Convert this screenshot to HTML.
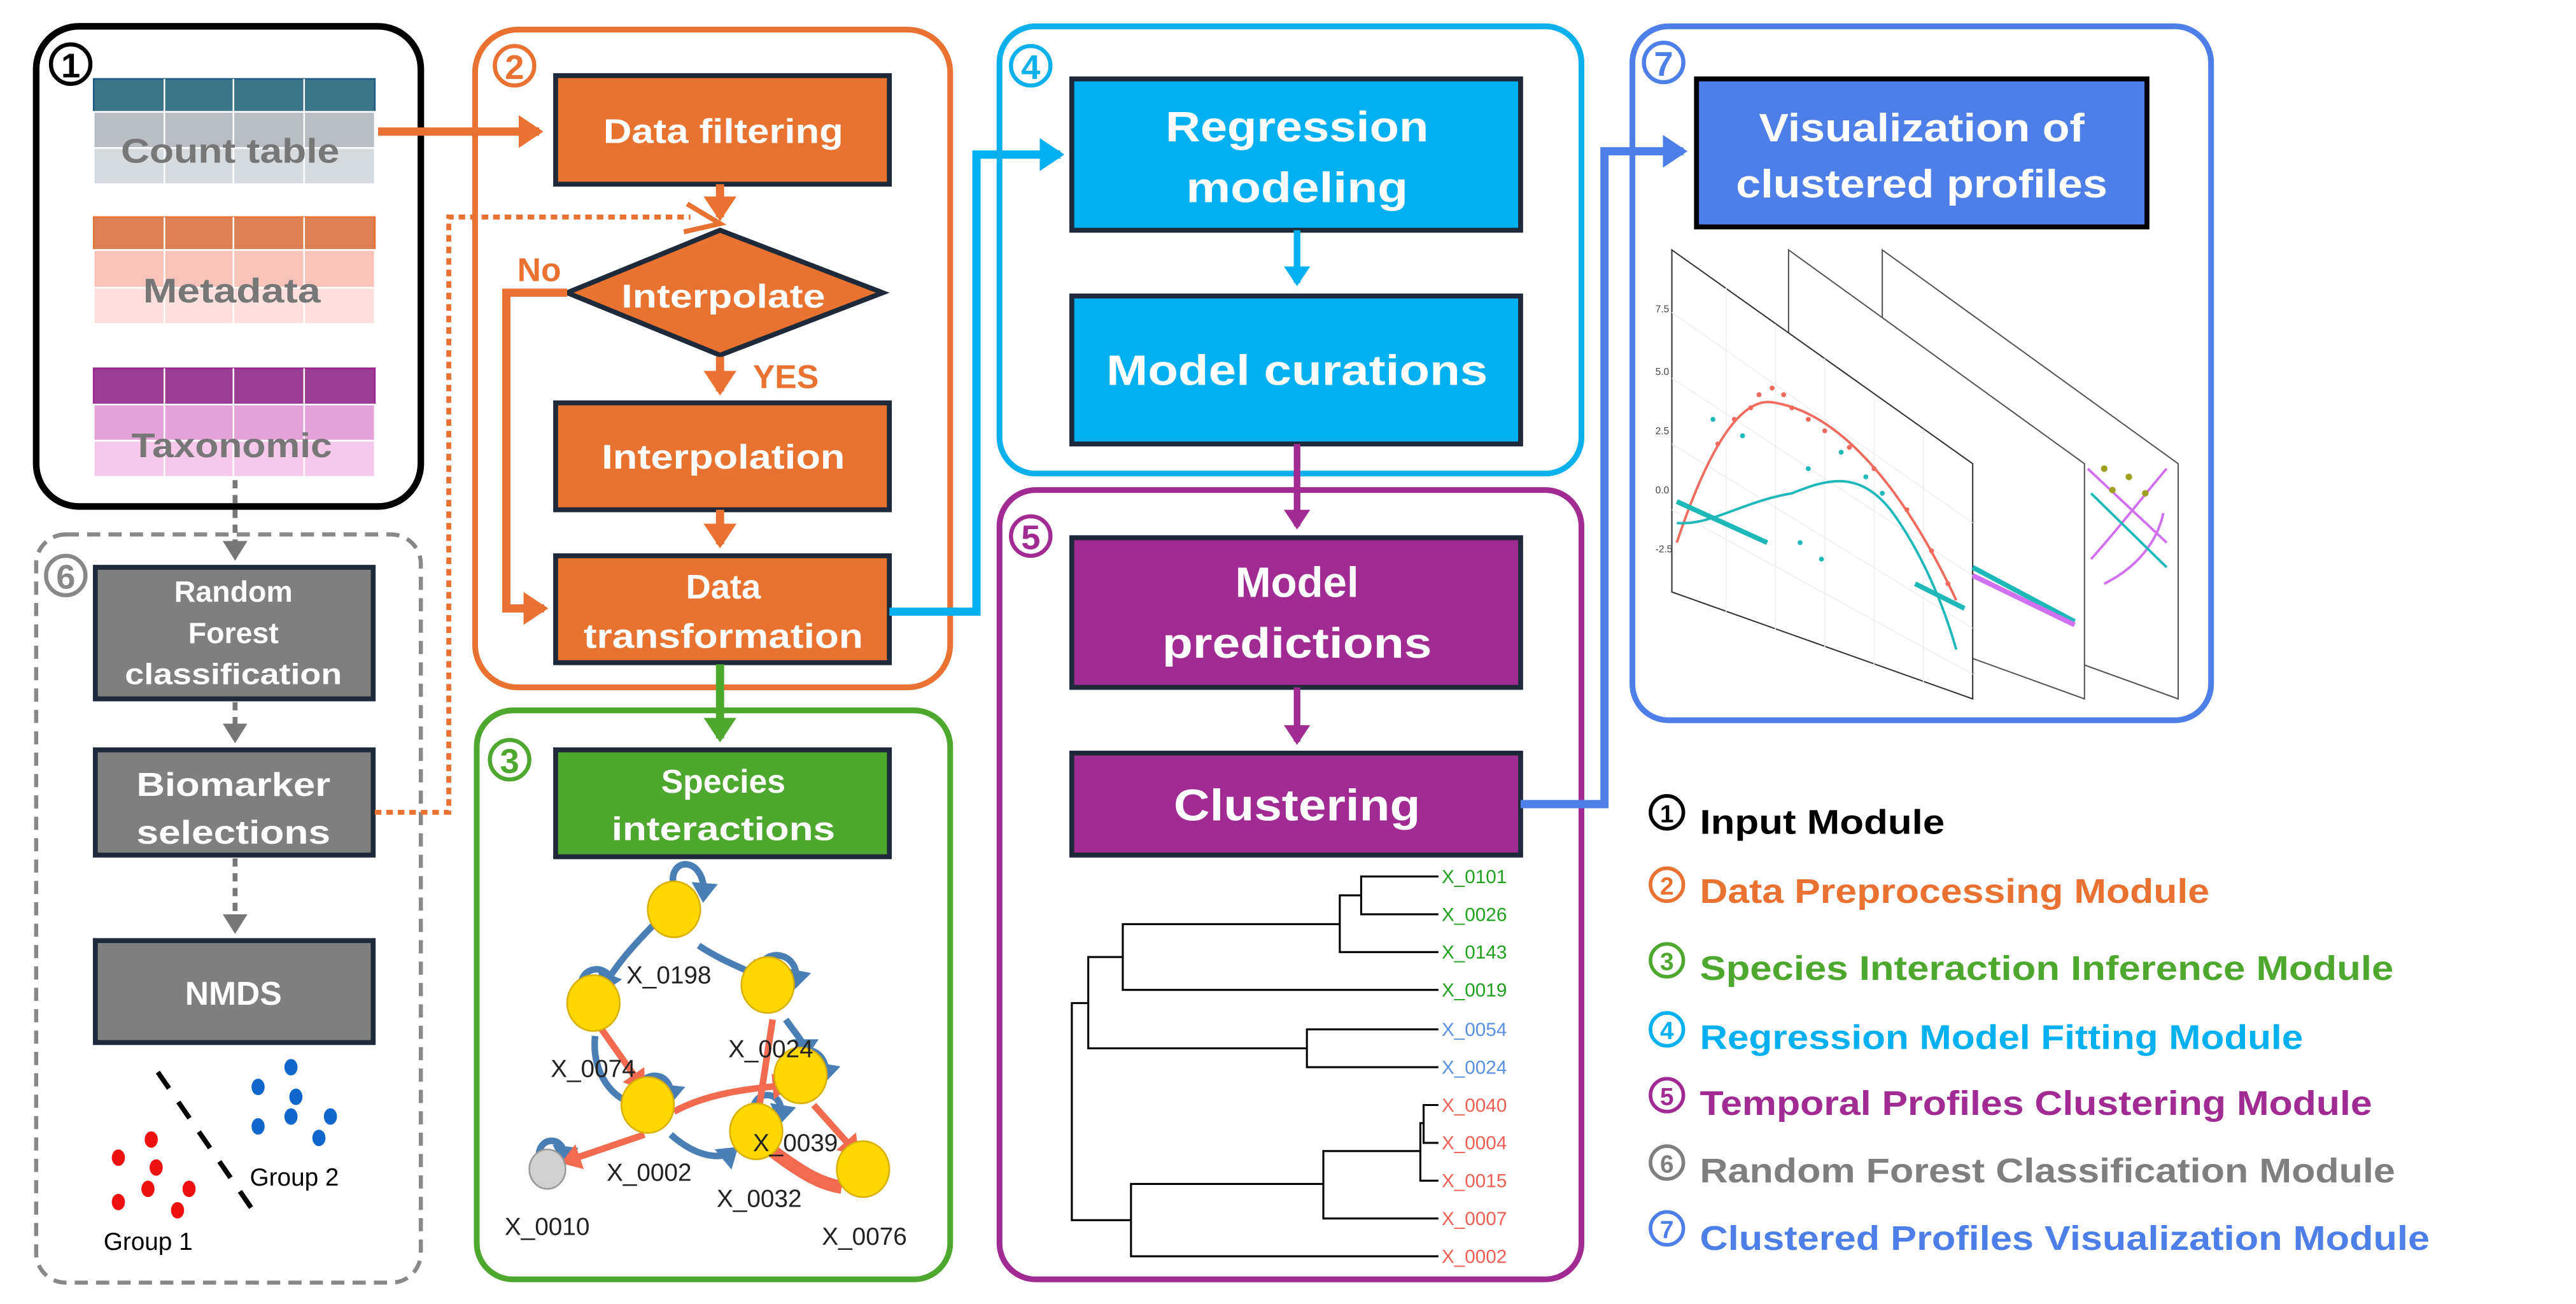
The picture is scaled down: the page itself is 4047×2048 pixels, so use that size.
<!DOCTYPE html>
<html><head><meta charset="utf-8"><style>
html,body{margin:0;padding:0;background:#fff}
svg{display:block}
text{font-family:"Liberation Sans",sans-serif;font-weight:bold}
</style></head><body>
<svg width="4047" height="2048" viewBox="0 0 1567 793" preserveAspectRatio="none" xmlns="http://www.w3.org/2000/svg">
<defs>
<marker id="aO" markerWidth="4" markerHeight="4" refX="2.5" refY="2" orient="auto" markerUnits="strokeWidth"><path d="M0,0 L3,2 L0,4 Z" fill="#e97132"/></marker>
<marker id="aC" markerWidth="4" markerHeight="4" refX="2.5" refY="2" orient="auto" markerUnits="strokeWidth"><path d="M0,0 L3,2 L0,4 Z" fill="#00b0f0"/></marker>
<marker id="aP" markerWidth="4" markerHeight="4" refX="2.5" refY="2" orient="auto" markerUnits="strokeWidth"><path d="M0,0 L3,2 L0,4 Z" fill="#a02b93"/></marker>
<marker id="aB" markerWidth="4" markerHeight="4" refX="2.5" refY="2" orient="auto" markerUnits="strokeWidth"><path d="M0,0 L3,2 L0,4 Z" fill="#4e7fe8"/></marker>
<marker id="aG" markerWidth="4" markerHeight="4" refX="2.5" refY="2" orient="auto" markerUnits="strokeWidth"><path d="M0,0 L3,2 L0,4 Z" fill="#4ea72e"/></marker>
<marker id="aY" markerWidth="5" markerHeight="5" refX="3" refY="2.5" orient="auto" markerUnits="strokeWidth"><path d="M0,0 L4,2.5 L0,5 Z" fill="#777"/></marker>
<marker id="aN" markerWidth="4" markerHeight="4" refX="2" refY="2" orient="auto" markerUnits="strokeWidth"><path d="M0,0 L3,2 L0,4 Z" fill="#4a7fb5"/></marker>
<marker id="aR" markerWidth="4" markerHeight="4" refX="2" refY="2" orient="auto" markerUnits="strokeWidth"><path d="M0,0 L3,2 L0,4 Z" fill="#f26a4f"/></marker>
</defs>

<!-- Box 1 -->
<rect x="22" y="16" width="234" height="292" rx="26" fill="none" stroke="#000" stroke-width="4"/>
<circle cx="43" cy="39" r="12" fill="#fff" stroke="#000" stroke-width="2.5"/>
<text x="43" y="47" font-size="21" text-anchor="middle" fill="#000">1</text>
<g stroke="#fff" stroke-width="1">
<rect x="57" y="48" width="171" height="20" fill="#3a7589" stroke="#1e5a80"/>
<rect x="57" y="68" width="171" height="22" fill="#b9bec5"/>
<rect x="57" y="90" width="171" height="22" fill="#d6dbe0"/>
<rect x="57" y="132" width="171" height="20" fill="#db7f55" stroke="#e97132"/>
<rect x="57" y="152" width="171" height="23" fill="#f7c3bb"/>
<rect x="57" y="175" width="171" height="22" fill="#fde0dd"/>
<rect x="57" y="224" width="171" height="22" fill="#9b3e93" stroke="#9b2090"/>
<rect x="57" y="246" width="171" height="22" fill="#e4a3d6"/>
<rect x="57" y="268" width="171" height="22" fill="#f6c9ea"/>
<path d="M100,48V112M142,48V112M185,48V112M100,132V197M142,132V197M185,132V197M100,224V290M142,224V290M185,224V290" fill="none"/>
</g>
<text x="140" y="99" font-size="21" text-anchor="middle" fill="#777" textLength="133" lengthAdjust="spacingAndGlyphs">Count table</text>
<text x="141" y="184" font-size="21" text-anchor="middle" fill="#777" textLength="108" lengthAdjust="spacingAndGlyphs">Metadata</text>
<text x="141" y="278" font-size="21" text-anchor="middle" fill="#777" textLength="122" lengthAdjust="spacingAndGlyphs">Taxonomic</text>
<line x1="230" y1="80" x2="328" y2="80" stroke="#e97132" stroke-width="5" marker-end="url(#aO)"/>

<!-- Box 6 -->
<rect x="22" y="325" width="234" height="455" rx="18" fill="none" stroke="#888" stroke-width="2.5" stroke-dasharray="8,5"/>
<circle cx="40" cy="350" r="12" fill="#fff" stroke="#888" stroke-width="2.5"/>
<text x="40" y="358" font-size="21" text-anchor="middle" fill="#888">6</text>
<line x1="143" y1="292" x2="143" y2="338" stroke="#777" stroke-width="3" stroke-dasharray="5,4" marker-end="url(#aY)"/>
<rect x="58" y="345" width="169" height="80" fill="#7f7f7f" stroke="#1e2a3a" stroke-width="3"/>
<text x="142" y="366" font-size="18" text-anchor="middle" fill="#fff">Random</text>
<text x="142" y="391" font-size="18" text-anchor="middle" fill="#fff">Forest</text>
<text x="142" y="416" font-size="18" text-anchor="middle" fill="#fff" textLength="132" lengthAdjust="spacingAndGlyphs">classification</text>
<line x1="143" y1="427" x2="143" y2="449" stroke="#777" stroke-width="3" stroke-dasharray="5,4" marker-end="url(#aY)"/>
<rect x="58" y="456" width="169" height="64" fill="#7f7f7f" stroke="#1e2a3a" stroke-width="3"/>
<text x="142" y="484" font-size="20" text-anchor="middle" fill="#fff" textLength="118" lengthAdjust="spacingAndGlyphs">Biomarker</text>
<text x="142" y="513" font-size="20" text-anchor="middle" fill="#fff" textLength="118" lengthAdjust="spacingAndGlyphs">selections</text>
<line x1="143" y1="522" x2="143" y2="565" stroke="#777" stroke-width="3" stroke-dasharray="5,4" marker-end="url(#aY)"/>
<rect x="58" y="572" width="169" height="62" fill="#7f7f7f" stroke="#1e2a3a" stroke-width="3"/>
<text x="142" y="611" font-size="20" text-anchor="middle" fill="#fff">NMDS</text>
<line x1="96" y1="652" x2="158" y2="742" stroke="#000" stroke-width="3" stroke-dasharray="12,10"/>
<g fill="#ee1111"><ellipse cx="92" cy="693" rx="4" ry="5"/><ellipse cx="72" cy="704" rx="4" ry="5"/><ellipse cx="95" cy="710" rx="4" ry="5"/><ellipse cx="90" cy="723" rx="4" ry="5"/><ellipse cx="115" cy="723" rx="4" ry="5"/><ellipse cx="72" cy="731" rx="4" ry="5"/><ellipse cx="108" cy="736" rx="4" ry="5"/></g>
<g fill="#1166cc"><ellipse cx="177" cy="649" rx="4" ry="5"/><ellipse cx="157" cy="661" rx="4" ry="5"/><ellipse cx="180" cy="667" rx="4" ry="5"/><ellipse cx="177" cy="679" rx="4" ry="5"/><ellipse cx="201" cy="679" rx="4" ry="5"/><ellipse cx="157" cy="685" rx="4" ry="5"/><ellipse cx="194" cy="692" rx="4" ry="5"/></g>
<text x="152" y="721" font-size="15" fill="#000" style="font-weight:normal">Group 2</text>
<text x="63" y="760" font-size="15" fill="#000" style="font-weight:normal">Group 1</text>

<!-- Box 2 -->
<rect x="289" y="18" width="289" height="400" rx="26" fill="none" stroke="#e97132" stroke-width="3.5"/>
<circle cx="313" cy="40" r="12" fill="#fff" stroke="#e97132" stroke-width="2.5"/>
<text x="313" y="48" font-size="21" text-anchor="middle" fill="#e97132">2</text>
<rect x="338" y="46" width="203" height="66" fill="#e87331" stroke="#1e2a3a" stroke-width="3"/>
<text x="440" y="87" font-size="21" text-anchor="middle" fill="#fff" textLength="146" lengthAdjust="spacingAndGlyphs">Data filtering</text>
<line x1="438" y1="112" x2="438" y2="132" stroke="#e97132" stroke-width="5" marker-end="url(#aO)"/>
<polygon points="345,178 438,140 537,178 438,216" fill="#e87331" stroke="#1e2a3a" stroke-width="3"/>
<text x="440" y="187" font-size="20" text-anchor="middle" fill="#fff" textLength="124" lengthAdjust="spacingAndGlyphs">Interpolate</text>
<text x="328" y="171" font-size="20" text-anchor="middle" fill="#e97132">No</text>
<text x="478" y="236" font-size="20" text-anchor="middle" fill="#e97132">YES</text>
<line x1="438" y1="217" x2="438" y2="238" stroke="#e97132" stroke-width="5" marker-end="url(#aO)"/>
<rect x="338" y="245" width="203" height="65" fill="#e87331" stroke="#1e2a3a" stroke-width="3"/>
<text x="440" y="285" font-size="21" text-anchor="middle" fill="#fff" textLength="148" lengthAdjust="spacingAndGlyphs">Interpolation</text>
<line x1="438" y1="310" x2="438" y2="331" stroke="#e97132" stroke-width="5" marker-end="url(#aO)"/>
<polyline points="345,178 308,178 308,370 331,370" fill="none" stroke="#e97132" stroke-width="5" marker-end="url(#aO)"/>
<rect x="338" y="338" width="203" height="65" fill="#e87331" stroke="#1e2a3a" stroke-width="3"/>
<text x="440" y="364" font-size="21" text-anchor="middle" fill="#fff">Data</text>
<text x="440" y="394" font-size="21" text-anchor="middle" fill="#fff" textLength="170" lengthAdjust="spacingAndGlyphs">transformation</text>
<polyline points="228,494 273,494 273,132 420,132" fill="none" stroke="#e97132" stroke-width="3" stroke-dasharray="4,3"/>
<path d="M418,124 L438,136 L416,141" fill="none" stroke="#e97132" stroke-width="3"/>

<polyline points="541,372 594,372 594,94 645,94" fill="none" stroke="#00b0f0" stroke-width="5" marker-end="url(#aC)"/>

<!-- Box 3 -->
<rect x="290" y="432" width="288" height="346" rx="22" fill="none" stroke="#4ea72e" stroke-width="3.5"/>
<circle cx="310" cy="462" r="12" fill="#fff" stroke="#4ea72e" stroke-width="2.5"/>
<text x="310" y="470" font-size="21" text-anchor="middle" fill="#4ea72e">3</text>
<line x1="438" y1="404" x2="438" y2="449" stroke="#4ea72e" stroke-width="5" marker-end="url(#aG)"/>
<rect x="338" y="456" width="203" height="65" fill="#4ea72e" stroke="#1e2a3a" stroke-width="3"/>
<text x="440" y="482" font-size="20" text-anchor="middle" fill="#fff">Species</text>
<text x="440" y="511" font-size="20" text-anchor="middle" fill="#fff" textLength="136" lengthAdjust="spacingAndGlyphs">interactions</text>
<g fill="none" stroke="#4a7fb5" stroke-width="4">
<path d="M400,560 C385,575 372,590 368,600" marker-end="url(#aN)"/>
<path d="M425,575 C440,585 455,590 462,594" marker-end="url(#aN)"/>
<path d="M478,620 C485,630 490,635 490,640" marker-end="url(#aN)"/>
<path d="M362,630 C360,650 370,665 382,670" />
<path d="M408,690 C425,705 440,705 446,700" marker-end="url(#aN)"/>
<path d="M410,540 C405,520 430,520 428,545" marker-end="url(#aN)"/>
<path d="M462,592 C462,575 488,578 484,598" marker-end="url(#aN)"/>
<path d="M354,604 C350,588 368,585 372,596"/>
<path d="M480,648 C485,632 505,638 502,655" marker-end="url(#aN)"/>
<path d="M388,666 C388,650 410,650 408,668" marker-end="url(#aN)"/>
<path d="M458,676 C458,662 478,662 475,680" marker-end="url(#aN)"/>
<path d="M328,705 C326,690 345,690 343,705" marker-end="url(#aN)"/>
</g>
<path d="M520,706 C522,692 540,695 536,712" fill="none" stroke="#666" stroke-width="1"/>
<g fill="none" stroke="#f26a4f" stroke-width="4">
<path d="M366,626 L390,660" marker-end="url(#aR)"/>
<path d="M410,676 C430,665 455,662 478,660" marker-end="url(#aR)"/>
<path d="M470,620 L462,672"/>
<path d="M392,690 L345,706" marker-end="url(#aR)"/>
<path d="M495,672 L520,700" marker-end="url(#aR)"/>
<path d="M470,700 C490,715 500,720 512,722" stroke-width="8"/>
</g>
<g fill="#ffd700" stroke="#d8b000" stroke-width="1">
<ellipse cx="410" cy="553" rx="16" ry="17"/><ellipse cx="361" cy="610" rx="16" ry="17"/><ellipse cx="467" cy="599" rx="16" ry="17"/><ellipse cx="487" cy="654" rx="16" ry="17"/><ellipse cx="394" cy="672" rx="16" ry="17"/><ellipse cx="460" cy="688" rx="16" ry="17"/><ellipse cx="525" cy="711" rx="16" ry="17"/>
</g>
<ellipse cx="333" cy="711" rx="11" ry="12" fill="#d0d0d0" stroke="#999"/>
<g font-size="15" fill="#222">
<text x="381" y="598" style="font-weight:normal">X_0198</text>
<text x="443" y="643" style="font-weight:normal">X_0024</text>
<text x="335" y="655" style="font-weight:normal">X_0074</text>
<text x="458" y="700" style="font-weight:normal">X_0039</text>
<text x="369" y="718" style="font-weight:normal">X_0002</text>
<text x="436" y="734" style="font-weight:normal">X_0032</text>
<text x="307" y="751" style="font-weight:normal">X_0010</text>
<text x="500" y="757" style="font-weight:normal">X_0076</text>
</g>

<!-- Box 4 -->
<rect x="608" y="16" width="354" height="272" rx="22" fill="none" stroke="#0cb0ec" stroke-width="3.5"/>
<circle cx="627" cy="40" r="12" fill="#fff" stroke="#0cb0ec" stroke-width="2.5"/>
<text x="627" y="48" font-size="21" text-anchor="middle" fill="#0cb0ec">4</text>
<rect x="652" y="48" width="273" height="92" fill="#00b0f0" stroke="#1e2a3a" stroke-width="3"/>
<text x="789" y="86" font-size="26" text-anchor="middle" fill="#fff" textLength="160" lengthAdjust="spacingAndGlyphs">Regression</text>
<text x="789" y="123" font-size="26" text-anchor="middle" fill="#fff" textLength="135" lengthAdjust="spacingAndGlyphs">modeling</text>
<line x1="789" y1="140" x2="789" y2="172" stroke="#00b0f0" stroke-width="4" marker-end="url(#aC)"/>
<rect x="652" y="180" width="273" height="90" fill="#00b0f0" stroke="#1e2a3a" stroke-width="3"/>
<text x="789" y="234" font-size="26" text-anchor="middle" fill="#fff" textLength="232" lengthAdjust="spacingAndGlyphs">Model curations</text>

<!-- Box 5 -->
<rect x="608" y="298" width="354" height="480" rx="22" fill="none" stroke="#a02b93" stroke-width="3.5"/>
<circle cx="627" cy="326" r="12" fill="#fff" stroke="#a02b93" stroke-width="2.5"/>
<text x="627" y="334" font-size="21" text-anchor="middle" fill="#a02b93">5</text>
<line x1="789" y1="270" x2="789" y2="320" stroke="#a02b93" stroke-width="4" marker-end="url(#aP)"/>
<rect x="652" y="327" width="273" height="91" fill="#a02b93" stroke="#1e2a3a" stroke-width="3"/>
<text x="789" y="363" font-size="26" text-anchor="middle" fill="#fff">Model</text>
<text x="789" y="400" font-size="26" text-anchor="middle" fill="#fff" textLength="164" lengthAdjust="spacingAndGlyphs">predictions</text>
<line x1="789" y1="418" x2="789" y2="451" stroke="#a02b93" stroke-width="4" marker-end="url(#aP)"/>
<rect x="652" y="458" width="273" height="62" fill="#a02b93" stroke="#1e2a3a" stroke-width="3"/>
<text x="789" y="499" font-size="27" text-anchor="middle" fill="#fff" textLength="150" lengthAdjust="spacingAndGlyphs">Clustering</text>
<g fill="none" stroke="#000" stroke-width="1.2">
<path d="M875,533H828V556H875M828,544.5H815V579H875M815,562H683V602H875M875,626H795V649H875M795,637.5H662V582H683M875,672H866V695H875M866,683H864V718H875M864,700H805V741H875M805,720H688V764H875M662,610H652V742H688"/>
</g>
<g font-size="11.5">
<text x="877" y="537" fill="#22a022" style="font-weight:normal">X_0101</text>
<text x="877" y="560" fill="#22a022" style="font-weight:normal">X_0026</text>
<text x="877" y="583" fill="#22a022" style="font-weight:normal">X_0143</text>
<text x="877" y="606" fill="#22a022" style="font-weight:normal">X_0019</text>
<text x="877" y="630" fill="#5b8fe0" style="font-weight:normal">X_0054</text>
<text x="877" y="653" fill="#5b8fe0" style="font-weight:normal">X_0024</text>
<text x="877" y="676" fill="#ee6055" style="font-weight:normal">X_0040</text>
<text x="877" y="699" fill="#ee6055" style="font-weight:normal">X_0004</text>
<text x="877" y="722" fill="#ee6055" style="font-weight:normal">X_0015</text>
<text x="877" y="745" fill="#ee6055" style="font-weight:normal">X_0007</text>
<text x="877" y="768" fill="#ee6055" style="font-weight:normal">X_0002</text>
</g>

<polyline points="925,489 976,489 976,92 1024,92" fill="none" stroke="#4e7fe8" stroke-width="5" marker-end="url(#aB)"/>

<!-- Box 7 -->
<rect x="993" y="16" width="352" height="422" rx="22" fill="none" stroke="#4e7fe8" stroke-width="3.5"/>
<circle cx="1012" cy="38" r="12" fill="#fff" stroke="#4e7fe8" stroke-width="2.5"/>
<text x="1012" y="46" font-size="21" text-anchor="middle" fill="#4e7fe8">7</text>
<rect x="1032" y="48" width="274" height="90" fill="#4e7fe8" stroke="#000" stroke-width="3"/>
<text x="1169" y="86" font-size="24" text-anchor="middle" fill="#fff" textLength="198" lengthAdjust="spacingAndGlyphs">Visualization of</text>
<text x="1169" y="120" font-size="24" text-anchor="middle" fill="#fff" textLength="226" lengthAdjust="spacingAndGlyphs">clustered profiles</text>
<polygon points="1145,152 1325,282 1325,425 1145,360" fill="#fff" stroke="#555" stroke-width="0.8"/>
<polygon points="1088,152 1268,282 1268,425 1088,360" fill="#fff" stroke="#555" stroke-width="0.8"/>
<polygon points="1017,152 1200,282 1200,425 1017,360" fill="#fff" stroke="#333" stroke-width="0.8"/>
<g stroke="#eee" stroke-width="0.6">
<path d="M1017,190L1200,318M1017,230L1200,350M1017,270L1200,382M1017,310L1200,410M1050,175V372M1080,197V383M1110,218V394M1140,240V405M1170,261V415"/>
</g>
<g font-size="6" fill="#444">
<text x="1007" y="190" style="font-weight:normal">7.5</text><text x="1007" y="228" style="font-weight:normal">5.0</text><text x="1007" y="264" style="font-weight:normal">2.5</text><text x="1007" y="300" style="font-weight:normal">0.0</text><text x="1007" y="336" style="font-weight:normal">-2.5</text>
</g>
<path d="M1020,330 C1040,270 1060,240 1080,245 C1110,250 1150,280 1190,365" fill="none" stroke="#f06a5e" stroke-width="1.5"/>
<path d="M1020,318 C1040,320 1060,305 1090,300 C1110,292 1130,285 1150,310 C1165,330 1180,360 1190,395" fill="none" stroke="#1fb8b8" stroke-width="1.5"/>
<path d="M1020,305 L1075,330 M1165,355 L1195,370 M1200,345 L1262,378" fill="none" stroke="#1fb8b8" stroke-width="3"/>
<path d="M1200,350 L1262,380" fill="none" stroke="#d070f0" stroke-width="3"/>
<g fill="#f06a5e"><circle cx="1045" cy="270" r="1.5"/><circle cx="1055" cy="255" r="1.5"/><circle cx="1070" cy="240" r="1.5"/><circle cx="1078" cy="236" r="1.5"/><circle cx="1090" cy="248" r="1.5"/><circle cx="1100" cy="255" r="1.5"/><circle cx="1110" cy="262" r="1.5"/><circle cx="1125" cy="272" r="1.5"/><circle cx="1140" cy="285" r="1.5"/><circle cx="1160" cy="310" r="1.5"/><circle cx="1175" cy="335" r="1.5"/><circle cx="1185" cy="355" r="1.5"/><circle cx="1065" cy="248" r="1.5"/><circle cx="1085" cy="240" r="1.5"/></g>
<g fill="#1fb8b8"><circle cx="1042" cy="255" r="1.5"/><circle cx="1060" cy="265" r="1.5"/><circle cx="1100" cy="285" r="1.5"/><circle cx="1120" cy="275" r="1.5"/><circle cx="1135" cy="290" r="1.5"/><circle cx="1145" cy="300" r="1.5"/><circle cx="1095" cy="330" r="1.5"/><circle cx="1108" cy="340" r="1.5"/></g>
<path d="M1270,285 L1318,330 M1272,340 C1290,320 1305,300 1318,285 M1280,355 C1300,345 1312,330 1316,312" fill="none" stroke="#d070f0" stroke-width="1.5"/>
<path d="M1272,300 L1318,345" fill="none" stroke="#1fb8b8" stroke-width="1.5"/>
<g fill="#a0a020"><circle cx="1280" cy="285" r="2"/><circle cx="1295" cy="290" r="2"/><circle cx="1305" cy="300" r="2"/><circle cx="1285" cy="298" r="2"/></g>

<!-- Legend -->
<g font-size="21">
<circle cx="1014" cy="494" r="10" fill="none" stroke="#000" stroke-width="2.2"/><text x="1014" y="500" font-size="15" text-anchor="middle" fill="#000">1</text>
<text x="1034" y="507" fill="#000" textLength="149" lengthAdjust="spacingAndGlyphs">Input Module</text>
<circle cx="1014" cy="538" r="10" fill="none" stroke="#e97132" stroke-width="2.2"/><text x="1014" y="544" font-size="15" text-anchor="middle" fill="#e97132">2</text>
<text x="1034" y="549" fill="#e97132" textLength="310" lengthAdjust="spacingAndGlyphs">Data Preprocessing Module</text>
<circle cx="1014" cy="584" r="10" fill="none" stroke="#4ea72e" stroke-width="2.2"/><text x="1014" y="590" font-size="15" text-anchor="middle" fill="#4ea72e">3</text>
<text x="1034" y="596" fill="#4ea72e" textLength="422" lengthAdjust="spacingAndGlyphs">Species Interaction Inference Module</text>
<circle cx="1014" cy="626" r="10" fill="none" stroke="#00b0f0" stroke-width="2.2"/><text x="1014" y="632" font-size="15" text-anchor="middle" fill="#00b0f0">4</text>
<text x="1034" y="638" fill="#00b0f0" textLength="367" lengthAdjust="spacingAndGlyphs">Regression Model Fitting Module</text>
<circle cx="1014" cy="666" r="10" fill="none" stroke="#a02b93" stroke-width="2.2"/><text x="1014" y="672" font-size="15" text-anchor="middle" fill="#a02b93">5</text>
<text x="1034" y="678" fill="#a02b93" textLength="409" lengthAdjust="spacingAndGlyphs">Temporal Profiles Clustering Module</text>
<circle cx="1014" cy="707" r="10" fill="none" stroke="#7f7f7f" stroke-width="2.2"/><text x="1014" y="713" font-size="15" text-anchor="middle" fill="#7f7f7f">6</text>
<text x="1034" y="719" fill="#7f7f7f" textLength="423" lengthAdjust="spacingAndGlyphs">Random Forest Classification Module</text>
<circle cx="1014" cy="747" r="10" fill="none" stroke="#4e7fe8" stroke-width="2.2"/><text x="1014" y="753" font-size="15" text-anchor="middle" fill="#4e7fe8">7</text>
<text x="1034" y="760" fill="#4e7fe8" textLength="444" lengthAdjust="spacingAndGlyphs">Clustered Profiles Visualization Module</text>
</g>
</svg>
</body></html>
